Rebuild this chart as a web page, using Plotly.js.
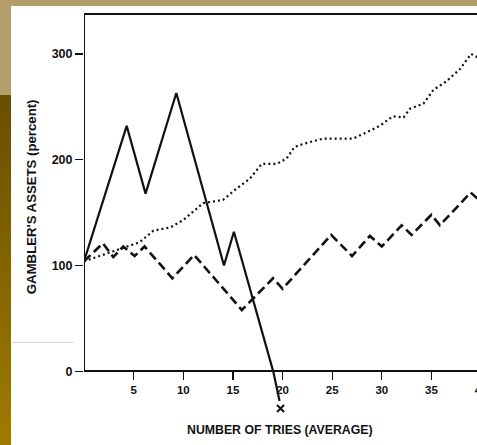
<!DOCTYPE html>
<html>
<head>
<meta charset="utf-8">
<script src="https://cdn.plot.ly/plotly-3.0.1.min.js"></script>
<style>
  html, body { margin: 0; padding: 0; background: #ffffff; overflow: hidden; width: 477px; height: 445px; }
  .deco { position: absolute; }
  #bgTop { left: 0; top: 0; width: 477px; height: 6px; background: #b39d6b; }
  #bgLeftTop { left: 0; top: 0; width: 11px; height: 95px; background: #b39d6b; }
  #bgLeft { left: 0; top: 95px; width: 11px; height: 350px; background: linear-gradient(#694e00, #9e7b00); }
  #scanLine { left: 12px; top: 342px; width: 62px; height: 1px; background: #d6d6d6; }
  #chart { position: absolute; left: 0; top: 0; width: 520px; height: 445px; }
</style>
</head>
<body>
<div class="deco" id="bgTop"></div>
<div class="deco" id="bgLeftTop"></div>
<div class="deco" id="bgLeft"></div>
<div class="deco" id="scanLine"></div>
<div id="chart"></div>
<script>
// Gambler's assets (percent) vs number of tries (average)
const solidX  = [0, 4.3, 6.2, 9.3, 14.1, 15.1, 19.06, 19.7];
const solidY  = [104, 232, 168, 263, 100, 132, 0, -28];

const dashedX = [0, 1.9, 2.95, 3.95, 5.1, 6.1, 8.9, 11.1, 15.9, 19.05, 20, 24.9, 27, 28.8, 30, 32, 33, 35, 35.85, 38.95, 40.5];
const dashedY = [104, 121, 108, 118, 109, 118, 88, 110, 58, 88, 78, 129, 109, 128, 118, 138, 129, 148, 138, 169, 156];

const dottedX = [0, 2.5, 5.6, 7.0, 8.7, 10, 12, 14, 15.4, 16.7, 17.9, 19.4, 20.4, 21.2, 22.1, 24.1, 27.1, 28.5, 29.8, 31.1, 32.2, 32.8, 34.2, 35.2, 36.5, 37.9, 39.0, 39.6, 40.5];
const dottedY = [104, 112, 122, 133, 136, 143, 159, 162, 173, 182, 196, 196, 201, 212, 215, 220, 220, 226, 232, 241, 240, 248, 253, 266, 274, 286, 300, 297, 296];

const ruinX = [19.8];
const ruinY = [-35];

const xTicks = [5, 10, 15, 20, 25, 30, 35, 40];
const yTicks = [0, 100, 200, 300];

const xTitle = 'NUMBER OF TRIES (AVERAGE)';
const yTitle = "GAMBLER'S ASSETS (percent)";

const xRange = [0, 41];
const yRange = [-45, 337.7];

const ink = '#111111';
const fontFam = '"Liberation Sans", Arial, sans-serif';

const traces = [
  { x: solidX, y: solidY, mode: 'lines', line: { color: ink, width: 2.2 }, hoverinfo: 'skip' },
  { x: dashedX, y: dashedY, mode: 'lines', line: { color: ink, width: 2.6, dash: '9px,4.5px' }, hoverinfo: 'skip' },
  { x: dottedX, y: dottedY, mode: 'lines', line: { color: ink, width: 2.2, dash: '2px,3px' }, hoverinfo: 'skip' },
  { x: ruinX, y: ruinY, mode: 'markers', cliponaxis: false,
    marker: { symbol: 'x-thin-open', size: 7, color: ink, line: { color: ink, width: 2 } }, hoverinfo: 'skip' }
];

const layout = {
  width: 520, height: 445,
  margin: { l: 84, r: 29, t: 14, b: 26 },
  paper_bgcolor: 'rgba(0,0,0,0)',
  plot_bgcolor: 'rgba(0,0,0,0)',
  showlegend: false,
  font: { family: fontFam, color: ink },
  xaxis: {
    range: xRange,
    anchor: 'free',
    position: (0 - yRange[0]) / (yRange[1] - yRange[0]),
    tickmode: 'array', tickvals: xTicks, ticktext: xTicks.map(String),
    ticks: 'outside', ticklen: 8, tickwidth: 1.3, tickcolor: ink,
    showline: true, linecolor: ink, linewidth: 2,
    showgrid: false, zeroline: false,
    tickfont: { family: fontFam, size: 11.5, weight: 'bold', color: ink }
  },
  yaxis: {
    range: yRange,
    tickmode: 'array', tickvals: yTicks, ticktext: yTicks.map(String),
    ticks: 'outside', ticklen: 8, tickwidth: 1.3, tickcolor: ink,
    showline: false, showgrid: false, zeroline: false,
    tickfont: { family: fontFam, size: 12.5, weight: 'bold', color: ink }
  },
  annotations: [
    { text: xTitle, xref: 'paper', yref: 'paper', x: 0.4816, y: -0.027,
      xanchor: 'center', yanchor: 'middle', showarrow: false,
      font: { family: fontFam, size: 12.3, weight: 'bold', color: ink } },
    { text: yTitle, xref: 'paper', yref: 'paper', x: -0.130, y: 0.548, textangle: -90,
      xanchor: 'center', yanchor: 'middle', showarrow: false,
      font: { family: fontFam, size: 13.2, weight: 'bold', color: ink } }
  ],
  shapes: [
    { type: 'line', xref: 'x', yref: 'y', x0: 0, x1: 0, y0: 0, y1: yRange[1], line: { color: ink, width: 2 } },
    { type: 'line', xref: 'paper', yref: 'paper', x0: 0, x1: 1, y0: 1, y1: 1, line: { color: ink, width: 1.8 } }
  ]
};

Plotly.newPlot('chart', traces, layout, { staticPlot: true, displayModeBar: false });
</script>
</body>
</html>
